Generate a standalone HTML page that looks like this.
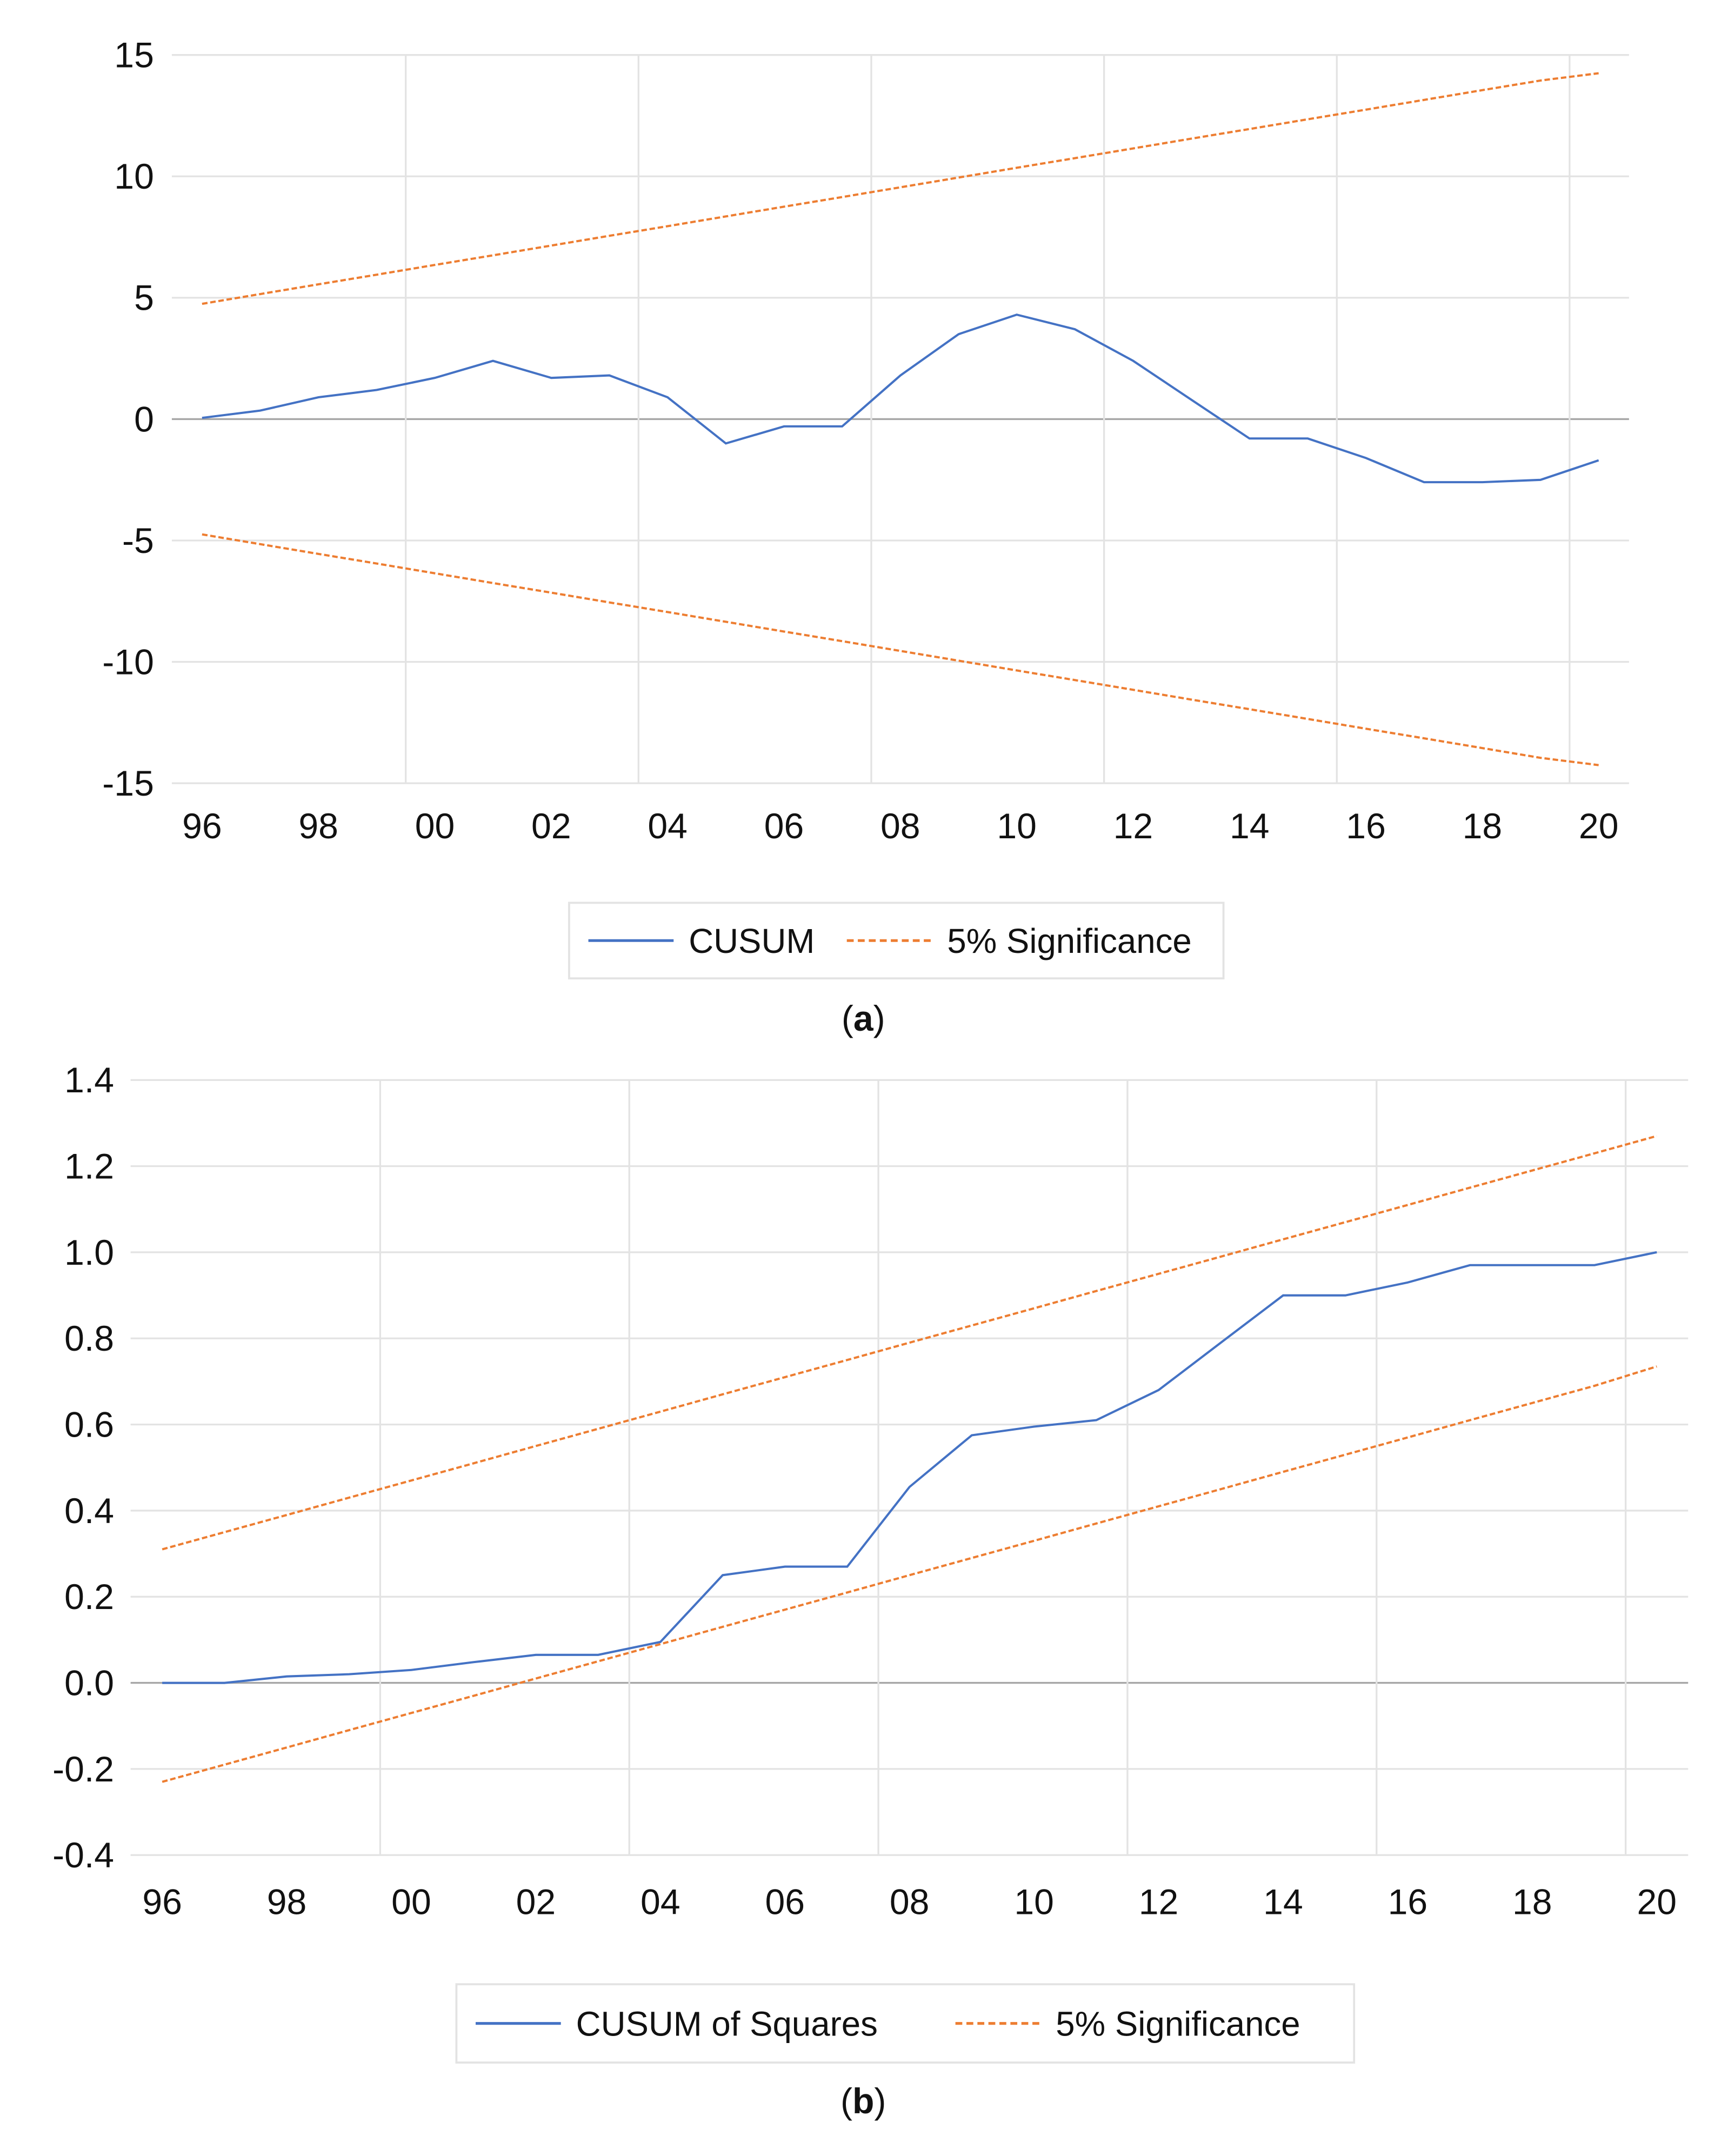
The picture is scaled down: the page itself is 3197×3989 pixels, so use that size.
<!DOCTYPE html>
<html><head><meta charset="utf-8"><style>
html,body{margin:0;padding:0;background:#fff;}
svg{display:block;}
text{font-family:"Liberation Sans",sans-serif;fill:#111;}
</style></head><body>
<svg id="root" width="3197" height="3989" viewBox="0 0 1257 1569" preserveAspectRatio="none">
<g id="ca"></g>
<g id="cb"></g>
</svg>
<script>
const years=["96","97","98","99","00","01","02","03","04","05","06","07","08","09","10","11","12","13","14","15","16","17","18","19","20"];
const tickYears=["96","98","00","02","04","06","08","10","12","14","16","18","20"];
const cusum=[0.05,0.35,0.9,1.2,1.7,2.4,1.7,1.8,0.9,-1.0,-0.3,-0.3,1.8,3.5,4.3,3.7,2.4,0.8,-0.8,-0.8,-1.6,-2.6,-2.6,-2.5,-1.7];
const cusumUpper=[4.75,5.15,5.55,5.95,6.35,6.75,7.15,7.55,7.95,8.35,8.75,9.15,9.55,9.95,10.35,10.75,11.15,11.55,11.95,12.35,12.75,13.15,13.55,13.95,14.25];
const cusumLower=cusumUpper.map(v=>-v);
const yTicksA=[15,10,5,0,-5,-10,-15];
const cusumSq=[0,0,0.015,0.02,0.03,0.048,0.065,0.065,0.095,0.25,0.27,0.27,0.455,0.575,0.595,0.61,0.68,0.79,0.9,0.9,0.93,0.97,0.97,0.97,1.0];
const sqUpper=[0.31,0.35,0.39,0.43,0.47,0.51,0.55,0.59,0.63,0.67,0.71,0.75,0.79,0.83,0.87,0.91,0.95,0.99,1.03,1.07,1.11,1.15,1.19,1.23,1.27];
const sqLower=[-0.23,-0.19,-0.15,-0.11,-0.07,-0.03,0.01,0.05,0.09,0.13,0.17,0.21,0.25,0.29,0.33,0.37,0.41,0.45,0.49,0.53,0.57,0.61,0.65,0.69,0.735];
const yTicksB=["1.4","1.2","1.0","0.8","0.6","0.4","0.2","0.0","-0.2","-0.4"];
const NS="http://www.w3.org/2000/svg";
function mk(p,tag,at){const e=document.createElementNS(NS,tag);for(const k in at)e.setAttribute(k,at[k]);p.appendChild(e);return e;}
function chart(g,cfg){
  const X=i=>cfg.x0+i*cfg.dx;
  const Y=v=>cfg.y0-(v-cfg.vmin)/(cfg.vmax-cfg.vmin)*(cfg.y0-cfg.y1);
  cfg.yt.forEach(t=>{const v=+t;const y=Y(v);
    const l=mk(g,'line',{x1:cfg.left,x2:cfg.right,y1:y,y2:y,stroke:v===0?'#a6a6a6':'#e3e3e3','stroke-width':1.3});
    
    
    const tx=mk(g,'text',{x:cfg.labX,y:y+9,'text-anchor':'end','font-size':26});tx.textContent=t;
    
    
  });
  for(let k=3.5;k<years.length;k+=4){
    const l=mk(g,'line',{x1:X(k),x2:X(k),y1:Y(cfg.vmax),y2:Y(cfg.vmin),stroke:'#e3e3e3','stroke-width':1.3});
    
    
  }
  tickYears.forEach(t=>{const i=years.indexOf(t);
    const tx=mk(g,'text',{x:X(i),y:cfg.xlabY,'text-anchor':'middle','font-size':26});tx.textContent=t;
    
    
  });
  const pts=a=>a.map((v,i)=>X(i).toFixed(1)+','+Y(v).toFixed(1)).join(' ');
  [[cfg.up,'upper-bound-line'],[cfg.lo,'lower-bound-line']].forEach(([a,n])=>{
    const p=mk(g,'polyline',{points:pts(a),fill:'none',stroke:'#ED7D31','stroke-width':1.6,'stroke-dasharray':'4,2'});
    
    
  });
  const p=mk(g,'polyline',{points:pts(cfg.s),fill:'none',stroke:'#4472C4','stroke-width':1.6});
  
  
  const L=cfg.leg;
  const box=mk(g,'rect',{x:L.x,y:L.y,width:L.w,height:L.h,fill:'#fff',stroke:'#e3e3e3','stroke-width':1.5});
  
  
  const cy=L.y+L.h/2;
  mk(g,'line',{x1:L.x+14,x2:L.x+76,y1:cy,y2:cy,stroke:'#4472C4','stroke-width':2});
  const t1=mk(g,'text',{x:L.x+87,y:cy+9,'font-size':25});t1.textContent=cfg.sl;
  
  
  mk(g,'line',{x1:L.s2,x2:L.s2+62,y1:cy,y2:cy,stroke:'#ED7D31','stroke-width':2,'stroke-dasharray':'5,3'});
  const t2=mk(g,'text',{x:L.s2+73,y:cy+9,'font-size':25});t2.textContent='5% Significance';
  
  
  const c=mk(g,'text',{x:628,y:cfg.capY,'text-anchor':'middle','font-size':26,'font-family':'Liberation Serif, serif'});
  c.innerHTML='(<tspan font-weight="bold">'+cfg.cap+'</tspan>)';
  
  
}
chart(document.getElementById('ca'),{x0:147,dx:42.33,vmin:-15,vmax:15,y0:570,y1:40,left:125,right:1185,labX:112,xlabY:610,
  yt:yTicksA.map(String),s:cusum,up:cusumUpper,lo:cusumLower,sname:'cusum-line',sl:'CUSUM',
  leg:{x:414,y:657,w:476,h:55,s2:616},capY:750,cap:'a'});
chart(document.getElementById('cb'),{x0:118,dx:45.3,vmin:-0.4,vmax:1.4,y0:1350,y1:786,left:95,right:1228,labX:83,xlabY:1393,
  yt:yTicksB,s:cusumSq,up:sqUpper,lo:sqLower,sname:'cusum-squares-line',sl:'CUSUM of Squares',
  leg:{x:332,y:1444,w:653,h:57,s2:695},capY:1538,cap:'b'});
</script>
</body></html>
